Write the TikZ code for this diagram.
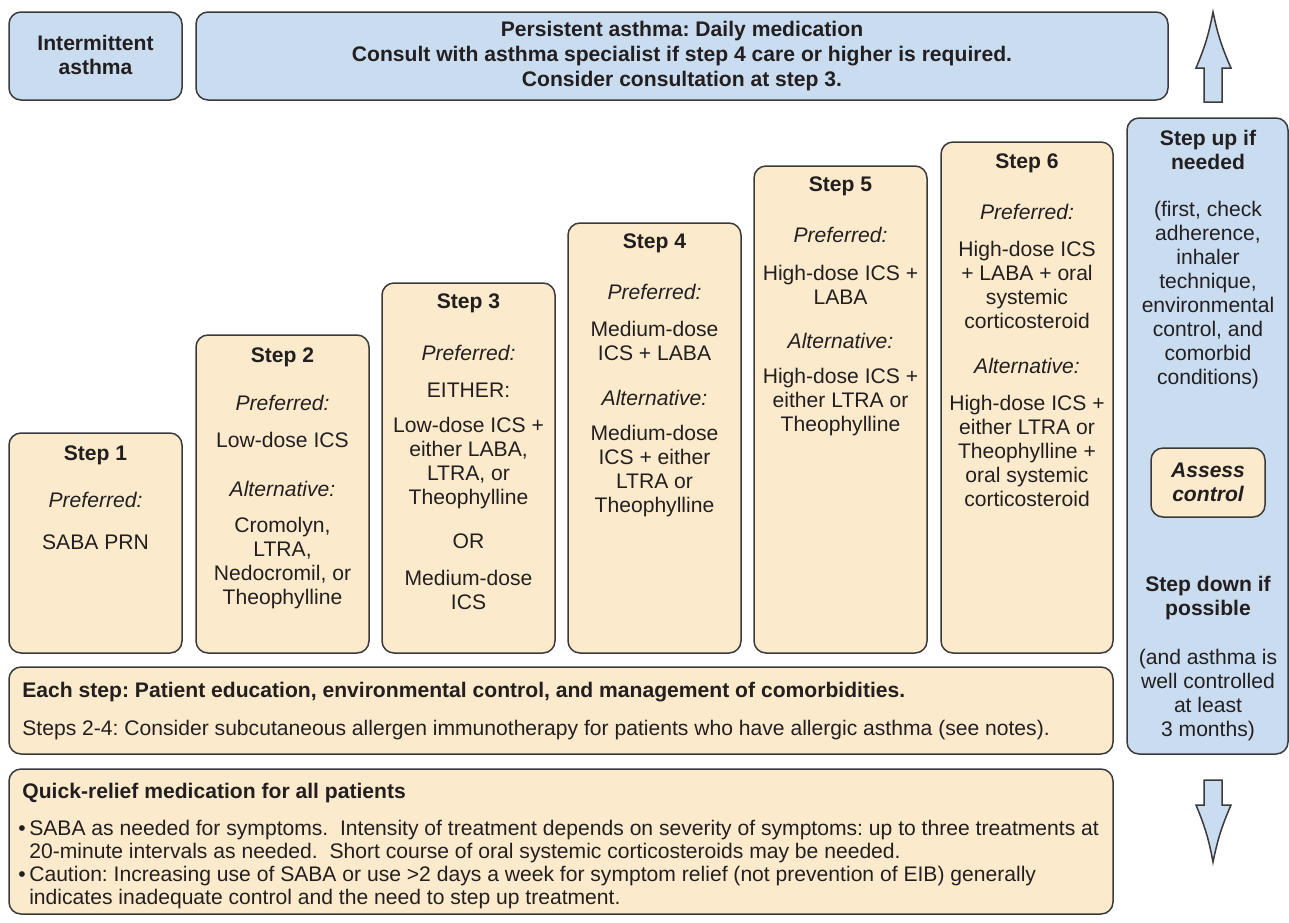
\documentclass[tikz,border=0pt]{standalone}
\usepackage{fontspec}
\setmainfont{Liberation Sans}
\frenchspacing
\definecolor{bluefill}{HTML}{C9DCF0}
\definecolor{beige}{HTML}{FBEACC}
\definecolor{edgecol}{HTML}{3A3A3A}
\definecolor{txt}{HTML}{231F20}
\newcommand\mkbox[6]{\node[#2, minimum width={(#5-#3)*0.5pt}, minimum height={(#6-#4)*0.5pt}] (#1) at ({(#3+#5)/2},{(#4+#6)/2}) {};}
\tikzset{
  box/.style={draw=edgecol, line width=0.75pt, rounded corners=6pt, inner sep=0pt, outer sep=0pt},
  bbox/.style={box, fill=bluefill},
  ybox/.style={box, fill=beige},
  arrowshape/.style={draw=edgecol, line width=0.75pt, fill=bluefill, line join=miter},
  t/.style={text=txt, align=center, inner sep=0pt, font=\fontsize{10.55pt}{12pt}\selectfont},
  tb/.style={t, font=\fontsize{10.55pt}{12pt}\selectfont\bfseries},
  ti/.style={t, font=\fontsize{10.55pt}{12pt}\selectfont\itshape},
  tl/.style={text=txt, align=left, inner sep=0pt, anchor=west, font=\fontsize{10.55pt}{11.5pt}\selectfont},
}
\begin{document}
\begin{tikzpicture}[x=0.5pt,y=-0.5pt]
\useasboundingbox (0,0) rectangle (1289,922);
% top boxes
\mkbox{inter}{bbox}{9}{12}{182}{100}
\mkbox{pers}{bbox}{196}{12}{1168}{100}
\node[tb] (intert) at (95.5,55) {Intermittent\\asthma};
\node[tb] (perst) at (682,56) {Persistent asthma: Daily medication\\[0.5pt]Consult with asthma specialist if step 4 care or higher is required.\\[0.5pt]Consider consultation at step 3.};
% right column
\mkbox{col}{bbox}{1127}{118}{1288}{754}
\mkbox{assess}{ybox}{1151}{448}{1265}{517}
\node[tb] (upt) at (1208,150) {Step up if\\needed};
\node[t] (upd) at (1208,295) {(first, check\\adherence,\\inhaler\\technique,\\environmental\\control, and\\comorbid\\conditions)};
\node[tb, font=\fontsize{10.55pt}{12pt}\selectfont\bfseries\itshape] (assesst) at (1208,482) {Assess\\control};
\node[tb] (downt) at (1208,598) {Step down if\\possible};
\node[t] (downd) at (1208,695) {(and asthma is\\well controlled\\at least\\3 months)};
% arrows
\draw[arrowshape] (1213,12) to[bend right=6] (1231,68) -- (1222,68) -- (1222,102) -- (1204,102) -- (1204,68) -- (1196,68) to[bend right=6] cycle;
\draw[arrowshape] (1213,862) to[bend left=6] (1231,805) -- (1222,805) -- (1222,780) -- (1204,780) -- (1204,805) -- (1196,805) to[bend left=6] cycle;
% step boxes
\mkbox{s1}{ybox}{9}{433}{182}{653}
\mkbox{s2}{ybox}{196}{335}{369}{653}
\mkbox{s3}{ybox}{382}{283}{555}{653}
\mkbox{s4}{ybox}{568}{223}{741}{653}
\mkbox{s5}{ybox}{754}{166}{927}{653}
\mkbox{s6}{ybox}{941}{142}{1113}{653}
% step 1
\node[tb] (s1a) at (95.5,455) {Step 1};
\node[ti] (s1b) at (95.5,500) {Preferred:};
\node[t] (s1c) at (95.5,542) {SABA PRN};
% step 2
\node[tb] (s2a) at (282.5,357) {Step 2};
\node[ti] (s2b) at (282.5,403) {Preferred:};
\node[t] (s2c) at (282.5,440) {Low-dose ICS};
\node[ti] (s2d) at (282.5,489) {Alternative:};
\node[t] (s2e) at (282.5,563) {Cromolyn,\\LTRA,\\Nedocromil, or\\Theophylline};
% step 3
\node[tb] (s3a) at (468.5,303) {Step 3};
\node[ti] (s3b) at (468.5,353) {Preferred:};
\node[t] (s3c) at (468.5,390) {EITHER:};
\node[t] (s3d) at (468.5,463) {Low-dose ICS +\\either LABA,\\LTRA, or\\Theophylline};
\node[t] (s3e) at (468.5,541) {OR};
\node[t] (s3f) at (468.5,590) {Medium-dose\\ICS};
% step 4
\node[tb] (s4a) at (654.5,243) {Step 4};
\node[ti] (s4b) at (654.5,292) {Preferred:};
\node[t] (s4c) at (654.5,341) {Medium-dose\\ICS + LABA};
\node[ti] (s4d) at (654.5,398) {Alternative:};
\node[t] (s4e) at (654.5,471) {Medium-dose\\ICS + either\\LTRA or\\Theophylline};
% step 5
\node[tb] (s5a) at (840.5,186) {Step 5};
\node[ti] (s5b) at (840.5,235) {Preferred:};
\node[t] (s5c) at (840.5,285) {High-dose ICS +\\LABA};
\node[ti] (s5d) at (840.5,341) {Alternative:};
\node[t] (s5e) at (840.5,402) {High-dose ICS +\\either LTRA or\\Theophylline};
% step 6
\node[tb] (s6a) at (1027,163) {Step 6};
\node[ti] (s6b) at (1027,212) {Preferred:};
\node[t] (s6c) at (1027,285) {High-dose ICS\\+ LABA + oral\\systemic\\corticosteroid};
\node[ti] (s6d) at (1027,366) {Alternative:};
\node[t] (s6e) at (1027,451) {High-dose ICS +\\either LTRA or\\Theophylline +\\oral systemic\\corticosteroid};
% each step
\mkbox{each}{ybox}{9}{667}{1113}{754}
\node[tl, font=\fontsize{10.55pt}{12pt}\selectfont\bfseries] (eacha) at (22,692) {Each step: Patient education, environmental control, and management of comorbidities.};
\node[tl] (eachb) at (22,730) {Steps 2-4: Consider subcutaneous allergen immunotherapy for patients who have allergic asthma (see notes).};
% quick relief
\mkbox{quick}{ybox}{9}{769}{1113}{914}
\node[tl, font=\fontsize{10.55pt}{12pt}\selectfont\bfseries] (quicka) at (22,793) {Quick-relief medication for all patients};
\node[tl] (quickb) at (18,864.5) {•\,SABA as needed for symptoms.\ \ Intensity of treatment depends on severity of symptoms: up to three treatments at\\\hphantom{•\,}20-minute intervals as needed.\ \ Short course of oral systemic corticosteroids may be needed.\\•\,Caution: Increasing use of SABA or use >2 days a week for symptom relief (not prevention of EIB) generally\\\hphantom{•\,}indicates inadequate control and the need to step up treatment.};
\end{tikzpicture}
\end{document}
